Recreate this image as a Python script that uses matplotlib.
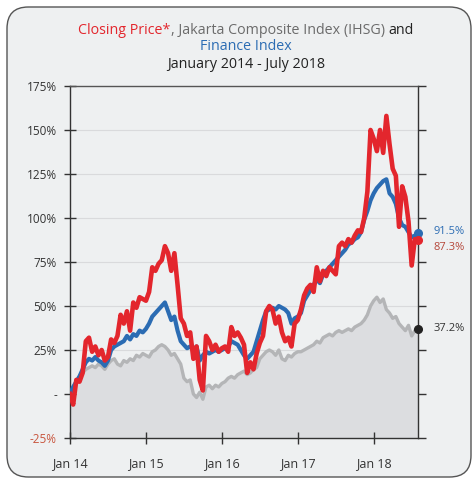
import numpy as np
import matplotlib
matplotlib.use("Agg")
import matplotlib.pyplot as plt
from matplotlib.patches import FancyBboxPatch

# ---- data: semi-monthly readings, Jan 2014 .. end of Jul 2018 (% change) ----
closing_price = [
    # 2014
    0, -6, 8, 7, 12, 30, 32, 24, 27, 22, 25, 19, 21, 31, 29, 33, 45, 40, 47, 36, 52, 49, 55, 54,
    # 2015
    53, 58, 72, 70, 74, 76, 84, 80, 70, 80, 62, 43, 40, 33, 35, 20, 27, 8, 2, 33, 30, 25, 28, 24,
    # 2016
    26, 27, 24, 38, 33, 35, 32, 28, 12, 18, 14, 23, 29, 33, 47, 50, 48, 40, 44, 35, 30, 32, 27, 40,
    # 2017
    42, 48, 56, 60, 62, 58, 72, 64, 70, 67, 72, 70, 68, 84, 86, 84, 88, 86, 90, 93, 92, 100, 115, 150,
    # 2018
    145, 138, 150, 137, 158, 142, 128, 124, 95, 118, 112, 98, 73, 88, 87.3,
]
finance_index = [
    0, 4, 7, 10, 14, 18, 20, 19, 21, 19, 18, 16, 19, 25, 27, 28, 29, 30, 33, 31, 34, 33, 36, 35,
    37, 40, 44, 46, 48, 50, 52, 47, 42, 44, 36, 30, 28, 26, 27, 25, 27, 19, 22, 24, 23, 24, 25, 24,
    25, 26, 27, 30, 29, 28, 25, 22, 20, 22, 24, 30, 36, 42, 47, 48, 49, 48, 50, 49, 48, 46, 40, 43,
    44, 46, 53, 56, 59, 62, 65, 63, 68, 70, 72, 74, 76, 78, 80, 82, 85, 86, 88, 89, 92, 99, 104, 110,
    114, 117, 119, 121, 122, 114, 112, 108, 100, 96, 95, 92, 89, 90, 91.5,
]
ihsg = [
    0, 3, 7, 10, 12, 14, 15, 16, 15, 17, 16, 14, 17, 19, 20, 17, 16, 19, 18, 20, 19, 22, 21, 23,
    22, 21, 24, 25, 27, 28, 27, 25, 22, 23, 20, 17, 9, 7, 8, 0, -2, 1, -3, 4, 5, 3, 5, 4,
    6, 7, 9, 10, 9, 11, 12, 13, 11, 12, 14, 15, 20, 22, 24, 25, 24, 22, 25, 20, 19, 22, 21, 23,
    24, 24, 25, 26, 27, 28, 30, 29, 32, 33, 34, 33, 35, 36, 35, 36, 37, 36, 38, 39, 40, 42, 45, 50,
    53, 55, 52, 54, 48, 46, 43, 44, 40, 38, 36, 39, 33, 36, 37.2,
]
x_tick_labels = ["Jan 14", "Jan 15", "Jan 16", "Jan 17", "Jan 18"]
y_ticks = [-25, 0, 25, 50, 75, 100, 125, 150, 175]
y_tick_labels = ["-25%", "-", "25%", "50%", "75%", "100%", "125%", "150%", "175%"]
end_labels = ["91.5%", "87.3%", "37.2%"]

# time axis in years since Jan 2014 (semi-monthly steps)
t = np.arange(len(closing_price)) / 24.0

RED = "#e3262d"
BLUE = "#2b6cb3"
GREY_LINE = "#b4b5b7"
GREY_FILL = "#dcdde0"
BG = "#eef0f1"
TXT = "#333333"

plt.rcParams["font.family"] = ["Open Sans", "DejaVu Sans"]

fig = plt.figure(figsize=(4.74, 4.80), dpi=100)
fig.patch.set_facecolor("white")

W, H = 474, 480
panel = FancyBboxPatch((7 / W, 3 / H), 464 / W, 470 / H,
                       boxstyle="round,pad=0,rounding_size=0.045",
                       transform=fig.transFigure, facecolor=BG,
                       edgecolor="#555555", linewidth=1.0, zorder=-10)
fig.patches.append(panel)

ax = fig.add_axes([70 / W, 1 - 438 / H, 348 / W, 352 / H])
ax.set_facecolor("none")

ax.fill_between(t, ihsg, -25, color=GREY_FILL, lw=0, zorder=1)
ax.plot(t, ihsg, color=GREY_LINE, lw=2.4, zorder=2, solid_joinstyle="round")
ax.plot(t, finance_index, color=BLUE, lw=3.0, zorder=3, solid_joinstyle="round")
ax.plot(t, closing_price, color=RED, lw=3.3, zorder=4, solid_joinstyle="round")

ax.set_xlim(0, t[-1])
ax.set_ylim(-25, 175)
ax.set_yticks(y_ticks)
ax.set_yticklabels(y_tick_labels)
ax.set_xticks(range(len(x_tick_labels)))
ax.set_xticklabels(x_tick_labels)

for v in y_ticks[1:-1]:
    ax.axhline(v, color="#d9dadc", lw=0.8, zorder=0.5)

for s in ["left", "right", "top", "bottom"]:
    ax.spines[s].set_color("#333333")
    ax.spines[s].set_linewidth(1.0)
ax.spines["top"].set_color("#555555")

ax.tick_params(axis="y", direction="inout", length=9, width=1, colors="#333333",
               labelsize=8.5, labelcolor=TXT, pad=5)
ax.tick_params(axis="x", direction="inout", length=8, width=1, colors="#333333",
               labelsize=9, labelcolor=TXT, pad=10)
ax.get_yticklabels()[0].set_color("#c8553d")

# right-hand axis ticks
ax2 = ax.twinx()
ax2.set_ylim(-25, 175)
ax2.set_yticks(y_ticks)
ax2.set_yticklabels([])
ax2.tick_params(axis="y", direction="out", length=6, width=1, colors="#333333")
for s in ax2.spines.values():
    s.set_visible(False)

# end markers
ax.plot([t[-1]], [finance_index[-1]], "o", color=BLUE, ms=5.5, zorder=6, clip_on=False)
ax.plot([t[-1]], [closing_price[-1]], "o", color=RED, ms=5.5, zorder=6, clip_on=False)
ax.plot([t[-1]], [ihsg[-1]], "o", color="#222222", ms=5.5, zorder=6, clip_on=False)

ax.annotate(end_labels[0], (t[-1], finance_index[-1]), xytext=(11, 1),
            textcoords="offset points", va="center", ha="left", fontsize=8, color=BLUE)
ax.annotate(end_labels[1], (t[-1], closing_price[-1]), xytext=(11, -5),
            textcoords="offset points", va="center", ha="left", fontsize=8, color="#b5473a")
ax.annotate(end_labels[2], (t[-1], ihsg[-1]), xytext=(11, 0),
            textcoords="offset points", va="center", ha="left", fontsize=8, color=TXT)

# ---- title (multi-colour first line) ----
renderer = fig.canvas.get_renderer()
parts = [("Closing Price*", RED), (", Jakarta Composite Index (IHSG) ", "#6b6b6b"), ("and", "#222222")]
fs = 10.3
widths = []
tmp = []
for s, c in parts:
    tt = fig.text(0, 0, s, fontsize=fs, color=c)
    bb = tt.get_window_extent(renderer=renderer)
    widths.append(bb.width)
    tmp.append(tt)
total = sum(widths)
x0 = (W / 2 - total / 2 + 9)
y1 = 1 - 31 / H
for tt, w in zip(tmp, widths):
    tt.set_position((x0 / W, y1))
    tt.set_va("center")
    x0 += w
fig.text(0.5 + 9 / W, 1 - 47 / H, "Finance Index", fontsize=fs, color=BLUE, ha="center", va="center")
fig.text(0.5 + 9 / W, 1 - 64 / H, "January 2014 - July 2018", fontsize=fs, color="#222222",
         ha="center", va="center")

fig.savefig("out.png", dpi=100, facecolor="white")
